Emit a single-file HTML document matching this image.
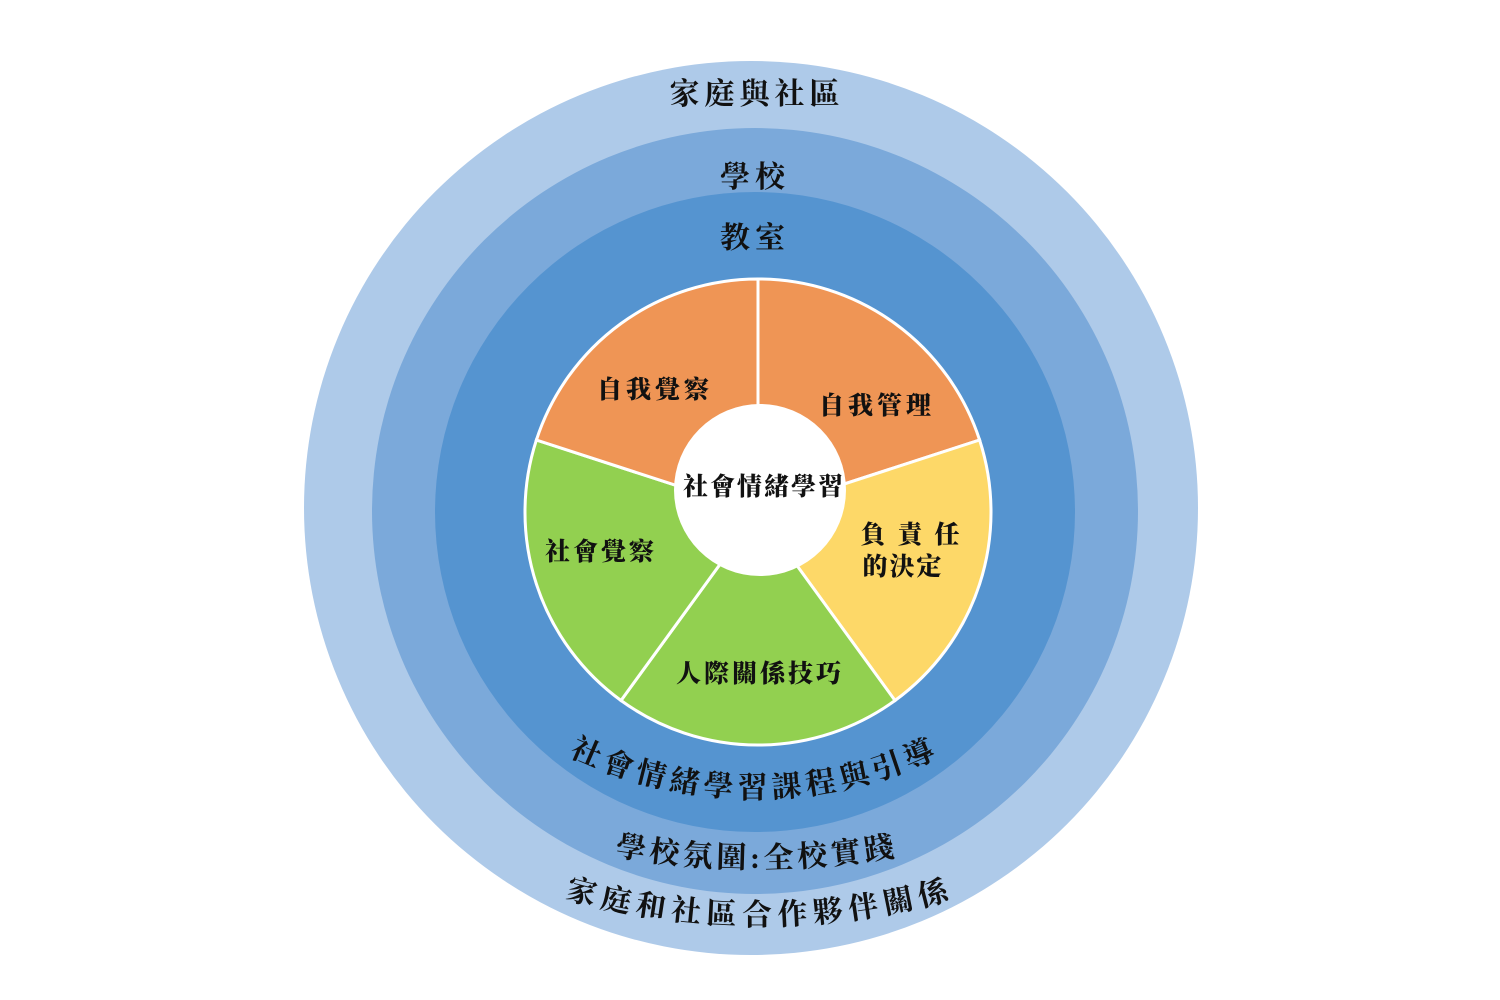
<!DOCTYPE html>
<html><head><meta charset="utf-8"><style>
html,body{margin:0;padding:0;background:#fff;width:1500px;height:1000px;overflow:hidden}
svg{display:block}
text{font-family:"Liberation Serif","Noto Serif CJK SC","Noto Sans CJK TC",serif;fill:#111}
.o{font-size:30px;font-weight:700;letter-spacing:3px}
.i{font-size:25px;font-weight:900}
</style></head><body>
<svg width="1500" height="1000" viewBox="0 0 1500 1000">
<defs>
<path id="p1" d="M 325 368 A 430 430 0 0 0 1185 368"/>
<path id="p2" d="M -59 52 A 816 816 0 0 0 1573 52"/>
<path id="p3" d="M 40 205 A 720 720 0 0 0 1480 205"/>
</defs>
<circle cx="751" cy="508" r="447" fill="#aecae9"/>
<circle cx="755" cy="511" r="383" fill="#7ba9da"/>
<circle cx="755" cy="512" r="320" fill="#5594d0"/>
<g stroke="#fff" stroke-width="3">
<path d="M758 512 L758 279 A233 233 0 0 1 979.6 440 Z" fill="#ef9555"/>
<path d="M758 512 L979.6 440 A233 233 0 0 1 895 700.5 Z" fill="#fdd868"/>
<path d="M758 512 L895 700.5 A233 233 0 0 1 621 700.5 Z" fill="#92d050"/>
<path d="M758 512 L621 700.5 A233 233 0 0 1 536.4 440 Z" fill="#92d050"/>
<path d="M758 512 L536.4 440 A233 233 0 0 1 758 279 Z" fill="#ef9555"/>
</g>
<circle cx="760" cy="490" r="86" fill="#fff"/>
<text class="o" x="757" y="104" text-anchor="middle" style="letter-spacing:5px">家庭與社區</text>
<text class="o" x="755" y="187" text-anchor="middle" style="letter-spacing:5px">學校</text>
<text class="o" x="755" y="248" text-anchor="middle" style="letter-spacing:5px">教室</text>
<text class="i" x="655" y="398" text-anchor="middle" letter-spacing="4">自我覺察</text>
<text class="i" x="877" y="414" text-anchor="middle" letter-spacing="4">自我管理</text>
<text class="i" x="764" y="495" text-anchor="middle" letter-spacing="2" font-size="26">社會情緒學習</text>
<text class="i" x="916" y="543" text-anchor="middle" letter-spacing="12">負責任</text>
<text class="i" x="903" y="575" text-anchor="middle" letter-spacing="2">的決定</text>
<text class="i" x="601" y="560" text-anchor="middle" letter-spacing="3">社會覺察</text>
<text class="i" x="760" y="682" text-anchor="middle" letter-spacing="3" font-size="26">人際關係技巧</text>
<text class="o" style="letter-spacing:5px"><textPath href="#p1" startOffset="50%" text-anchor="middle">社會情緒學習課程與引導</textPath></text>
<text class="o" style="letter-spacing:4px"><textPath href="#p2" startOffset="50%" text-anchor="middle">學校氛圍:全校實踐</textPath></text>
<text class="o" style="letter-spacing:6px"><textPath href="#p3" startOffset="50%" text-anchor="middle">家庭和社區合作夥伴關係</textPath></text>
</svg>
</body></html>
